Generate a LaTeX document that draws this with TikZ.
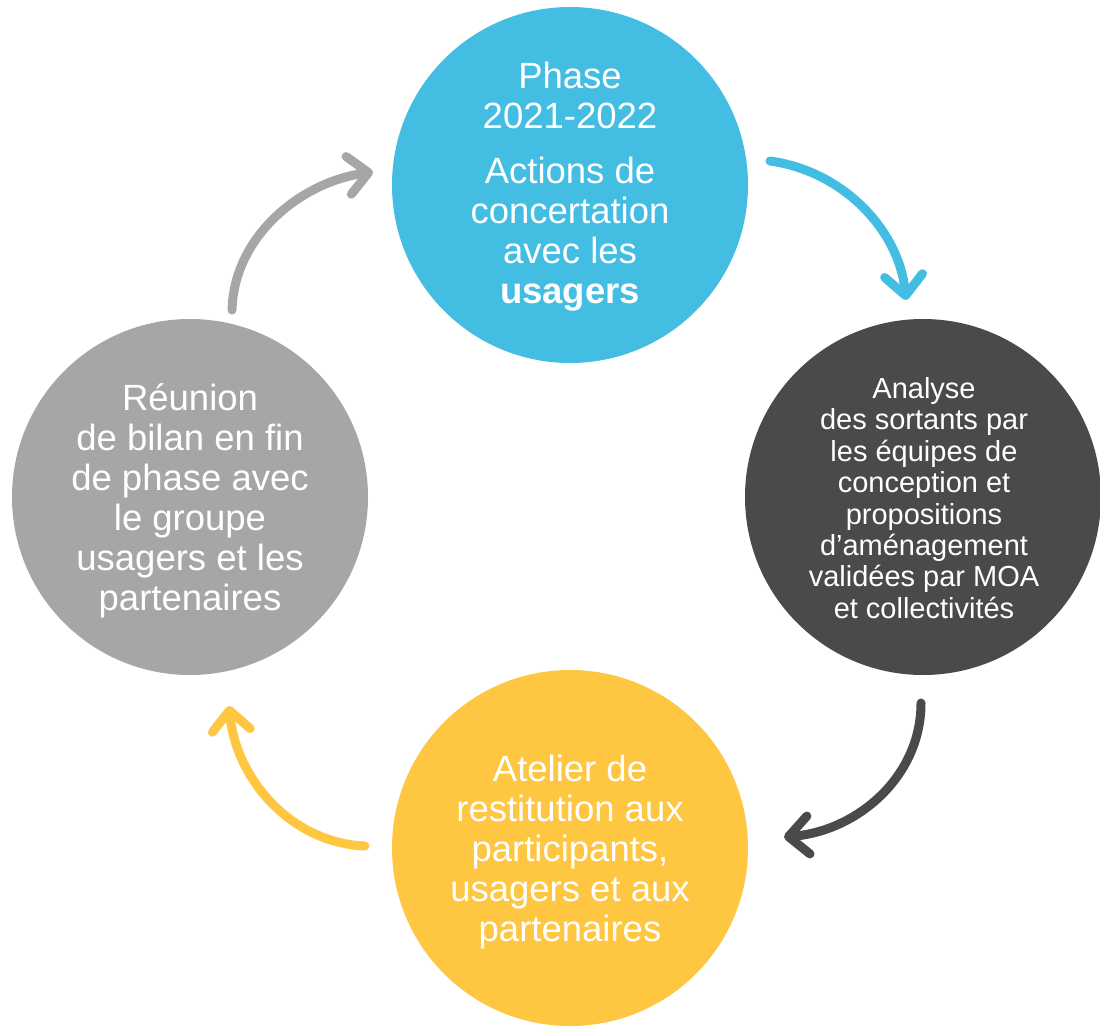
\documentclass[tikz,border=0pt]{standalone}
\usepackage{fontspec}
\setmainfont{Liberation Sans}
\usetikzlibrary{arrows.meta}
\definecolor{cblue}{HTML}{44BDE3}
\definecolor{cdark}{HTML}{4A4A48}
\definecolor{cyellow}{HTML}{FEC641}
\definecolor{cgray}{HTML}{A6A6A6}
\begin{document}
\begin{tikzpicture}[x=1pt,y=-1pt,
  disc/.style={circle, minimum size=356pt, inner sep=0pt, draw=none},
  bigtxt/.style={text=white, align=center, font=\fontsize{36.5}{40}\selectfont, inner sep=0pt},
  smalltxt/.style={text=white, align=center, font=\fontsize{29}{31.4}\selectfont, inner sep=0pt},
  flow/.style={line width=9pt, line cap=round, -{Straight Barb[length=20pt,width=38pt,round]}}]
\useasboundingbox (0,0) rectangle (1100,1027);
% circles
\node[disc, fill=cblue] (top) at (570,185) {};
\node[disc, fill=cdark] (right) at (923,497) {};
\node[disc, fill=cyellow] (bottom) at (570,848) {};
\node[disc, fill=cgray] (left) at (190,497) {};
% texts
\node[bigtxt] (toptxt) at (570,187) {Phase\\2021-2022\\[15pt]Actions de\\concertation\\avec les\\\textbf{usagers}};
\node[smalltxt] (righttxt) at (924,498) {Analyse\\des sortants par\\les équipes de\\conception et\\propositions\\d’aménagement\\validées par MOA\\et collectivités};
\node[bigtxt] (bottomtxt) at (570,852) {Atelier de\\restitution aux\\participants,\\usagers et aux\\partenaires};
\node[bigtxt] (lefttxt) at (190,501) {Réunion\\de bilan en fin\\de phase avec\\le groupe\\usagers et les\\partenaires};
% connector ends
\coordinate (s1) at (770,161);
\coordinate (e1) at (906,300);
\coordinate (s2) at (921,703);
\coordinate (e2) at (784,837);
\coordinate (s3) at (365,846);
\coordinate (e3) at (229,706);
\coordinate (s4) at (232,310);
\coordinate (e4) at (373,172);
% arrows
\draw[flow, cblue] (s1) .. controls (843,171) and (899,230) .. (e1);
\draw[flow, cdark] (s2) .. controls (921,777) and (857,831) .. (e2);
\draw[flow, cyellow] (s3) .. controls (291,843) and (236,779) .. (e3);
\draw[flow, cgray] (s4) .. controls (234,236) and (301,182) .. (e4);
\end{tikzpicture}
\end{document}
